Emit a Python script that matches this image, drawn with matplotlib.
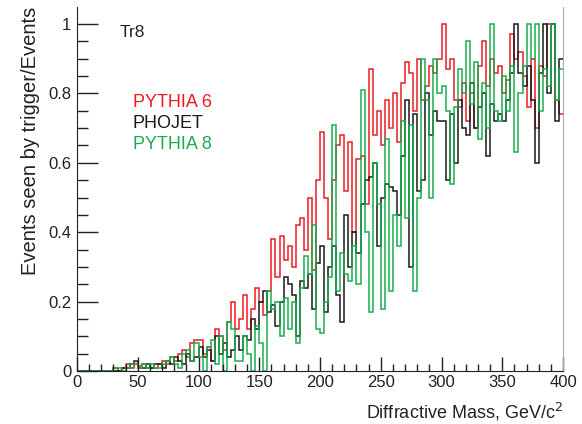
import numpy as np
import matplotlib
matplotlib.use("Agg")
import matplotlib.pyplot as plt
from matplotlib.ticker import MultipleLocator

plt.rcParams['font.family'] = ['Liberation Sans', 'DejaVu Sans']

mass_min, mass_max, n_bins = 0.0, 400.0, 120

pythia6 = [
    0, 0, 0, 0, 0, 0, 0, 0, 0, 0.01,
    0, 0.01, 0.02, 0.01, 0.02, 0.015, 0.02, 0.01, 0.01, 0.01,
    0.02, 0.03, 0.02, 0.04, 0.03, 0.05, 0.06, 0.04, 0.08, 0.09,
    0.09, 0.05, 0.07, 0.03, 0.12, 0.10, 0.06, 0.14, 0.20, 0.12,
    0.15, 0.22, 0.12, 0.18, 0.24, 0.20, 0.16, 0.23, 0.38, 0.27,
    0.39, 0.32, 0.36, 0.30, 0.42, 0.44, 0.35, 0.50, 0.29, 0.55,
    0.69, 0.50, 0.38, 0.55, 0.65, 0.68, 0.52, 0.66, 0.40, 0.61,
    0.62, 0.48, 0.87, 0.68, 0.75, 0.65, 0.78, 0.70, 0.80, 0.66,
    0.83, 0.89, 0.86, 0.75, 0.90, 0.78, 0.82, 0.88, 0.86, 0.90,
    1.00, 0.87, 0.90, 0.78, 0.76, 0.83, 0.72, 0.80, 0.70, 0.88,
    0.95, 0.82, 0.90, 0.86, 0.88, 0.80, 0.84, 0.97, 0.90, 0.92,
    0.85, 0.76, 0.90, 0.70, 0.88, 0.85, 1.00, 1.00, 0.78, 0.74,
]

phojet = [
    0, 0, 0, 0, 0, 0, 0, 0, 0, 0,
    0, 0.01, 0.01, 0.02, 0.03, 0.01, 0.01, 0.02, 0.01, 0.02,
    0.02, 0.01, 0.03, 0.02, 0.04, 0.03, 0.02, 0.05, 0.03, 0.04,
    0.07, 0.04, 0.06, 0.03, 0.10, 0.05, 0.08, 0.04, 0.06, 0.10,
    0.06, 0.10, 0.09, 0.15, 0.12, 0.20, 0.23, 0.17, 0.19, 0.13,
    0.20, 0.27, 0.25, 0.22, 0.10, 0.26, 0.24, 0.28, 0.18, 0.31,
    0.36, 0.17, 0.30, 0.36, 0.22, 0.14, 0.45, 0.30, 0.40, 0.34,
    0.48, 0.55, 0.56, 0.60, 0.36, 0.50, 0.54, 0.53, 0.52, 0.45,
    0.62, 0.78, 0.30, 0.74, 0.52, 0.55, 0.80, 0.68, 0.75, 0.72,
    0.72, 0.55, 0.74, 0.60, 0.78, 0.70, 0.68, 0.83, 0.70, 0.76,
    0.80, 0.62, 0.77, 0.72, 0.74, 0.72, 0.78, 0.86, 1.00, 0.86,
    0.82, 0.88, 0.78, 0.60, 0.86, 1.00, 0.80, 1.00, 0.72, 0.90,
]

pythia8 = [
    0, 0, 0, 0, 0, 0, 0, 0, 0, 0.01,
    0.01, 0, 0.01, 0.02, 0.02, 0.01, 0.02, 0.01, 0.02, 0.01,
    0.01, 0.02, 0.03, 0.04, 0.02, 0.01, 0.05, 0.06, 0.03, 0.08,
    0.04, 0.0, 0.07, 0.09, 0.02, 0.10, 0.0, 0.14, 0.12, 0.03,
    0.03, 0.10, 0.05, 0.0, 0.13, 0.08, 0.0, 0.23, 0.18, 0.20,
    0.10, 0.21, 0.12, 0.20, 0.08, 0.24, 0.33, 0.28, 0.42, 0.12,
    0.11, 0.20, 0.27, 0.71, 0.23, 0.34, 0.28, 0.26, 0.36, 0.25,
    0.81, 0.40, 0.17, 0.60, 0.48, 0.18, 0.67, 0.23, 0.45, 0.36,
    0.72, 0.44, 0.71, 0.23, 0.50, 0.90, 0.78, 0.50, 0.90, 0.80,
    0.82, 0.75, 0.54, 0.76, 0.87, 0.80, 0.95, 0.77, 0.89, 0.67,
    0.83, 0.70, 1.00, 0.75, 0.72, 0.85, 0.75, 0.88, 0.63, 0.80,
    0.88, 1.00, 0.90, 1.00, 0.75, 0.87, 0.82, 1.00, 0.78, 0.87,
]

series_names = ["PYTHIA 6", "PHOJET", "PYTHIA 8"]
series_colors = ["#ec1c24", "#1a1a1a", "#1aad4e"]

edges = np.linspace(mass_min, mass_max, n_bins + 1)

fig = plt.figure(figsize=(5.82, 4.24), dpi=100)
ax = fig.add_axes([77 / 582, 53 / 424, 486 / 582, 364 / 424])

for vals, col in zip([pythia6, phojet, pythia8], series_colors):
    ax.stairs(vals, edges, color=col, linewidth=1.1, baseline=None)

ax.set_xlim(0, 400)
ax.set_ylim(0, 1.049)

ax.xaxis.set_major_locator(MultipleLocator(50))
ax.xaxis.set_minor_locator(MultipleLocator(10))
ax.yaxis.set_major_locator(MultipleLocator(0.2))
ax.yaxis.set_minor_locator(MultipleLocator(0.05))
ax.set_yticks([0, 0.2, 0.4, 0.6, 0.8, 1.0])
ax.set_yticklabels(["0", "0.2", "0.4", "0.6", "0.8", "1"])

ax.tick_params(which='both', direction='in', labelsize=12, colors='#222222',
               top=False, right=False)
ax.tick_params(axis='x', which='major', length=10, width=1, pad=3)
ax.tick_params(axis='x', which='minor', length=5, width=1)
ax.tick_params(axis='y', which='major', length=15, width=1, pad=4)
ax.tick_params(axis='y', which='minor', length=8, width=1)

ax.spines['top'].set_visible(False)
ax.spines['right'].set_color('#aaaaaa')
ax.spines['left'].set_color('#222222')
ax.spines['bottom'].set_color('#222222')

ax.set_xlabel("Diffractive Mass, GeV/c$^2$", fontsize=13, color='#222222',
              loc='right', labelpad=8)
ax.set_ylabel("Events seen by trigger/Events", fontsize=14.5, color='#222222',
              loc='top', labelpad=6)

ax.text(35, 0.975, "Tr8", fontsize=12.5, color='#222222', va='center', ha='left')
for i, (name, col) in enumerate(zip(series_names, series_colors)):
    ax.text(46, 0.775 - i * 0.061, name, fontsize=13, color=col,
            va='center', ha='left')

fig.savefig("out.png", dpi=100)
